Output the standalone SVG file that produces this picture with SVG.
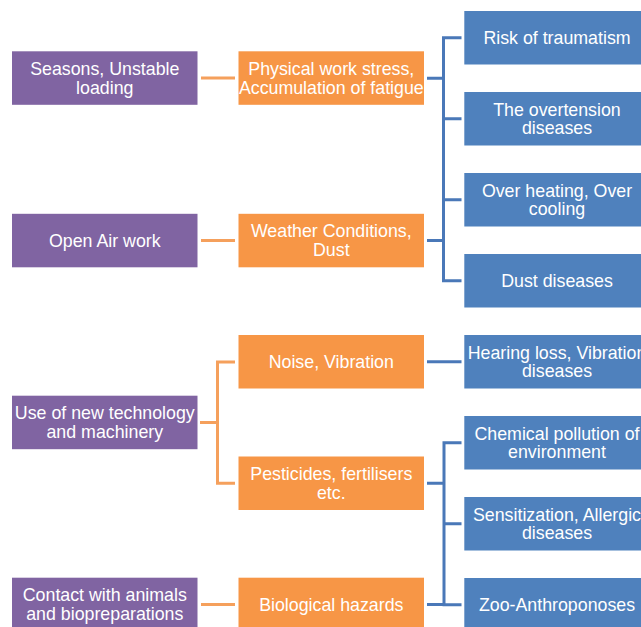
<svg xmlns="http://www.w3.org/2000/svg" width="641" height="627" viewBox="0 0 641 627">
<style>
.p{fill:#8064A2}
.o{fill:#F79646}
.b{fill:#4F81BD}
text{font-family:"Liberation Sans",Arial,sans-serif;font-size:17.8px;fill:#fff;text-anchor:middle}
.ol{stroke:#F5A05C;stroke-width:3;fill:none}
.bl{stroke:#4A78B8;stroke-width:3;fill:none}
</style>
<rect width="641" height="627" fill="#fff"/>
<g id="connectors">
<path class="ol" d="M201 78 H235 M201 240.5 H235 M201 604.5 H235 M200 422.5 H217.5 M235 362 H217.5 V483.2 H235"/>
<path class="bl" d="M427 78.3 H443.5 M427 240.5 H443.5 M461.5 37.7 H443.5 V280.7 H461.5 M443.5 118.7 H461.5 M443.5 199.7 H461.5"/>
<path class="bl" d="M427 361.7 H461.5"/>
<path class="bl" d="M427 483.2 H444 M427 604.5 H444 M461.5 442.7 H444 V604.7 H461.5 M444 523.7 H461.5"/>
</g>
<g id="p1"><rect class="p" x="12" y="51.3" width="185.5" height="53.5"/><text x="104.8" y="74.9">Seasons, Unstable</text><text x="104.8" y="93.6">loading</text></g>
<g id="p2"><rect class="p" x="12" y="213.8" width="185.5" height="53.5"/><text x="104.8" y="246.8">Open Air work</text></g>
<g id="p3"><rect class="p" x="12" y="395.7" width="185.5" height="53.5"/><text x="104.8" y="419.4">Use of new technology</text><text x="104.8" y="438.1">and machinery</text></g>
<g id="p4"><rect class="p" x="12" y="577.7" width="185.5" height="53.5"/><text x="104.8" y="601.4">Contact with animals</text><text x="104.8" y="620.1">and biopreparations</text></g>
<g id="o1"><rect class="o" x="238.5" y="51.3" width="185.5" height="53.5"/><text x="331.3" y="74.9">Physical work stress,</text><text x="331.3" y="93.6">Accumulation of fatigue</text></g>
<g id="o2"><rect class="o" x="238.5" y="213.8" width="185.5" height="53.5"/><text x="331.3" y="237.4">Weather Conditions,</text><text x="331.3" y="256.1">Dust</text></g>
<g id="o3"><rect class="o" x="238.5" y="335" width="185.5" height="53.5"/><text x="331.3" y="368">Noise, Vibration</text></g>
<g id="o4"><rect class="o" x="238.5" y="456.5" width="185.5" height="53.5"/><text x="331.3" y="480.1">Pesticides, fertilisers</text><text x="331.3" y="498.8">etc.</text></g>
<g id="o5"><rect class="o" x="238.5" y="577.7" width="185.5" height="53.5"/><text x="331.3" y="610.8">Biological hazards</text></g>
<g id="b1"><rect class="b" x="464.3" y="11" width="186" height="53.5"/><text x="557" y="44">Risk of traumatism</text></g>
<g id="b2"><rect class="b" x="464.3" y="92" width="186" height="53.5"/><text x="557" y="115.6">The overtension</text><text x="557" y="134.3">diseases</text></g>
<g id="b3"><rect class="b" x="464.3" y="173" width="186" height="53.5"/><text x="557" y="196.6">Over heating, Over</text><text x="557" y="215.3">cooling</text></g>
<g id="b4"><rect class="b" x="464.3" y="254" width="186" height="53.5"/><text x="557" y="287">Dust diseases</text></g>
<g id="b5"><rect class="b" x="464.3" y="335" width="186" height="53.5"/><text x="557" y="358.6">Hearing loss, Vibration</text><text x="557" y="377.3">diseases</text></g>
<g id="b6"><rect class="b" x="464.3" y="416" width="186" height="53.5"/><text x="557" y="439.6">Chemical pollution of</text><text x="557" y="458.3">environment</text></g>
<g id="b7"><rect class="b" x="464.3" y="497" width="186" height="53.5"/><text x="557" y="520.6">Sensitization, Allergic</text><text x="557" y="539.3">diseases</text></g>
<g id="b8"><rect class="b" x="464.3" y="578" width="186" height="53.5"/><text x="557" y="611">Zoo-Anthroponoses</text></g>
</svg>
